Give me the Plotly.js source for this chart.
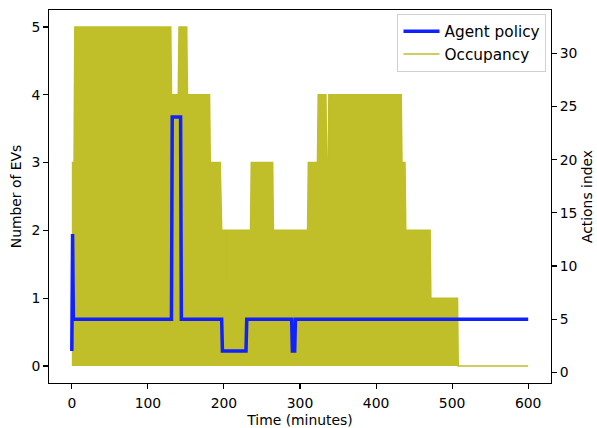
<!DOCTYPE html>
<html>
<head>
<meta charset="utf-8">
<script src="https://cdn.plot.ly/plotly-3.0.1.min.js"></script>
<style>
  html, body { margin: 0; padding: 0; background: #ffffff; }
  #chart { width: 597px; height: 428px; }
</style>
</head>
<body>
<div id="chart"></div>
<script>
// Agent policy: chosen action index over the episode (right axis)
const policyTime  = [0, 1, 2, 131, 132, 143, 144, 197, 198, 229, 230, 289, 290, 293, 294, 600];
const policyIndex = [2, 13, 5, 5, 24, 24, 5, 5, 2, 2, 5, 5, 2, 2, 5, 5];

// Station occupancy: number of connected EVs (left axis)
const occTime = [0, 3, 4, 130, 131, 140, 141, 151, 152, 181, 182, 195, 197, 203, 204, 205,
                 235, 236, 264, 265, 310, 311, 323, 324, 334, 335, 337, 338, 433, 434,
                 438, 439, 471, 472, 507, 508, 600];
const occEVs  = [3, 3, 5, 5, 4, 4, 5, 5, 4, 4, 3, 3, 2, 2, 1, 2,
                 2, 3, 3, 2, 2, 3, 3, 4, 4, 3, 3, 4, 4, 3,
                 3, 2, 2, 1, 1, 0, 0];

const xTicks = [0, 100, 200, 300, 400, 500, 600];
const evTicks = [0, 1, 2, 3, 4, 5];
const actionTicks = [0, 5, 10, 15, 20, 25, 30];

const olive = 'rgb(192,190,41)';
const blue = '#1020ff';
const font = { family: 'DejaVu Sans, sans-serif', size: 13.9, color: '#000000' };
const legendFont = { family: 'DejaVu Sans, sans-serif', size: 15.3, color: '#000000' };

const traces = [
  {
    x: policyTime, y: policyIndex, yaxis: 'y2',
    type: 'scatter', mode: 'lines', name: 'Agent policy',
    line: { color: blue, width: 3.5, shape: 'linear' },
    hoverinfo: 'skip'
  },
  {
    x: occTime, y: occEVs, yaxis: 'y',
    type: 'scatter', mode: 'lines', name: 'Occupancy',
    line: { color: olive, width: 1.6 },
    hoverinfo: 'skip'
  },
  {
    x: occTime, y: occEVs, yaxis: 'y',
    type: 'scatter', mode: 'lines', name: 'Occupancy area',
    fill: 'tozeroy', fillcolor: olive,
    line: { width: 0, color: olive },
    showlegend: false, hoverinfo: 'skip'
  }
];

const axisCommon = {
  showgrid: false, zeroline: false,
  showline: true, linecolor: '#000000', linewidth: 1.1,
  ticks: 'outside', ticklen: 4.9, tickwidth: 1.1, tickcolor: '#000000',
  tickfont: font
};

const layout = {
  width: 597, height: 428,
  margin: { l: 48.5, r: 45.5, t: 10, b: 44.7, pad: 0 },
  paper_bgcolor: '#ffffff', plot_bgcolor: '#ffffff',
  font: font,
  showlegend: true,
  legend: {
    x: 0.991, y: 0.99, xanchor: 'right', yanchor: 'top',
    bgcolor: 'rgba(255,255,255,0.8)', bordercolor: '#d0d0d0', borderwidth: 1,
    font: legendFont, traceorder: 'normal', itemwidth: 36, tracegroupgap: 0
  },
  xaxis: Object.assign({}, axisCommon, {
    range: [-30, 630], tickmode: 'array', tickvals: xTicks,
    ticktext: xTicks.map(String), mirror: true, ticklabelstandoff: 2,
    title: { text: 'Time (minutes)', font: font, standoff: 10 }
  }),
  yaxis: Object.assign({}, axisCommon, {
    range: [-0.25, 5.25], tickmode: 'array', tickvals: evTicks,
    ticktext: evTicks.map(String), mirror: true,
    title: { text: 'Number of EVs', font: font, standoff: 6 }
  }),
  yaxis2: Object.assign({}, axisCommon, {
    range: [-1, 34.07], tickmode: 'array', tickvals: actionTicks,
    ticktext: actionTicks.map(String),
    overlaying: 'y', side: 'right',
    title: { text: 'Actions index', font: font, standoff: 5 }
  })
};

Plotly.newPlot('chart', traces, layout, { staticPlot: true, displayModeBar: false });
</script>
</body>
</html>
